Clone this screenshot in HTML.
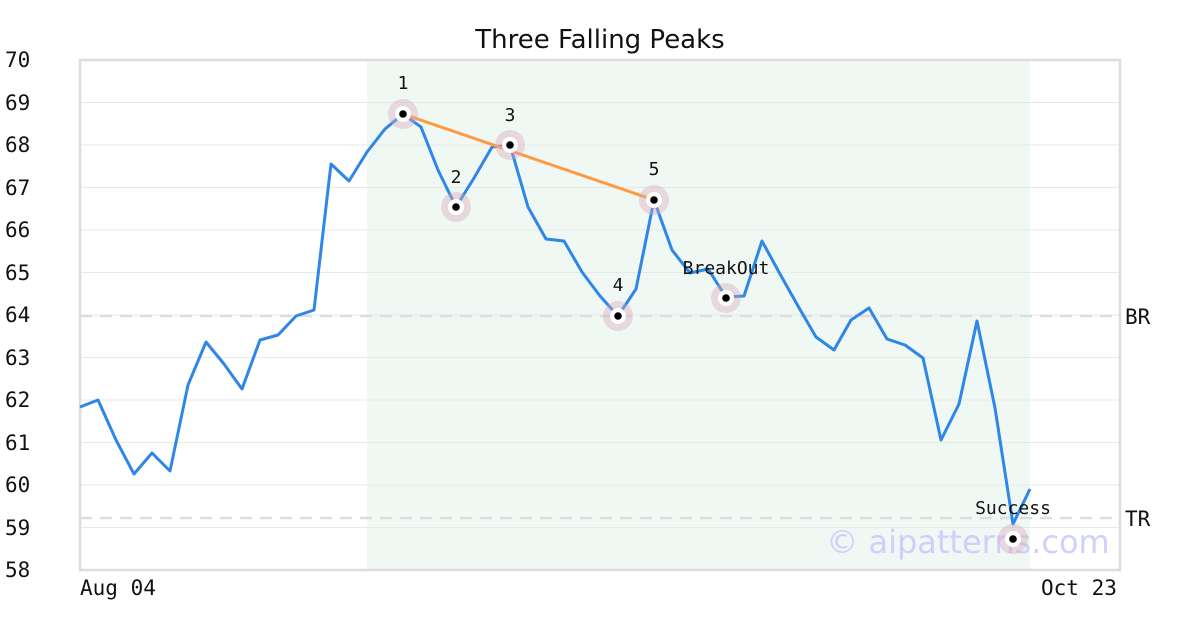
<!DOCTYPE html>
<html><head><meta charset="utf-8"><style>
html,body{margin:0;padding:0;background:#fff;}
svg{display:block;}
.m{font-family:"DejaVu Sans Mono","Liberation Mono",monospace;font-size:21px;fill:#111;}
.s{font-family:"DejaVu Sans Mono","Liberation Mono",monospace;font-size:18px;fill:#111;}
</style></head><body>
<svg width="1200" height="630" xmlns="http://www.w3.org/2000/svg">
<rect x="367" y="60" width="663" height="510" fill="#eef7f3" opacity="0.9"/>
<g stroke="#e8e8e8" stroke-width="1">
<line x1="80" x2="1120" y1="102.5" y2="102.5"/><line x1="80" x2="1120" y1="145" y2="145"/>
<line x1="80" x2="1120" y1="187.5" y2="187.5"/><line x1="80" x2="1120" y1="230" y2="230"/>
<line x1="80" x2="1120" y1="272.5" y2="272.5"/><line x1="80" x2="1120" y1="315" y2="315"/>
<line x1="80" x2="1120" y1="357.5" y2="357.5"/><line x1="80" x2="1120" y1="400" y2="400"/>
<line x1="80" x2="1120" y1="442.5" y2="442.5"/><line x1="80" x2="1120" y1="485" y2="485"/>
<line x1="80" x2="1120" y1="527.5" y2="527.5"/>
</g>
<g stroke="#dddddd" stroke-width="2.5" stroke-dasharray="12,8">
<line x1="80" x2="1120" y1="316" y2="316"/><line x1="80" x2="1120" y1="518" y2="518"/>
</g>
<rect x="80" y="60" width="1040" height="510" fill="none" stroke="#dddddd" stroke-width="2.5"/>
<text x="600" y="48" text-anchor="middle" font-family="DejaVu Sans,Liberation Sans,sans-serif" font-size="26" fill="#111">Three Falling Peaks</text>
<g class="m" text-anchor="start">
<text x="5" y="67">70</text><text x="5" y="110">69</text><text x="5" y="152">68</text>
<text x="5" y="195">67</text><text x="5" y="237">66</text><text x="5" y="280">65</text>
<text x="5" y="322">64</text><text x="5" y="365">63</text><text x="5" y="407">62</text>
<text x="5" y="450">61</text><text x="5" y="492">60</text><text x="5" y="535">59</text>
<text x="5" y="577">58</text>
<text x="80" y="595">Aug 04</text><text x="1041" y="595">Oct 23</text>
<text x="1125" y="324">BR</text><text x="1125" y="526">TR</text>
</g>
<text x="968" y="553" text-anchor="middle" font-family="DejaVu Sans,Liberation Sans,sans-serif" font-size="32" fill="#c8c8ff" opacity="0.85">© aipatterns.com</text>
<polyline fill="none" stroke="#2e86e8" stroke-width="3" stroke-linejoin="round" points="80,407 98,400 116,440 134,474 152,453 170,471 188,385 206,342 224,364 242,389 260,340 278,335 296,316 314,310 331,164 349,181 367,152 385,129 403,114 421,127 438,170 456,207 474,178 492,147 510,145 528,207 546,239 564,241 582,272 600,296 618,316 636,289 654,200 672,250 690,273 708,269 726,297 744,296 762,241 780,274 798,306 816,337 834,350 851,320 869,308 887,339 905,345 923,358 941,440 959,404 977,321 995,408 1013,524 1030,489"/>
<line x1="403" y1="114" x2="654" y2="200" stroke="#ff9a40" stroke-width="3"/>
<g>
<g fill="#d8a8b8" opacity="0.4">
<circle cx="403" cy="114" r="15"/><circle cx="456" cy="207" r="15"/><circle cx="510" cy="145" r="15"/>
<circle cx="618" cy="316" r="15"/><circle cx="654" cy="200" r="15"/><circle cx="726" cy="298" r="15"/><circle cx="1013" cy="539" r="15"/>
</g>
<g fill="#fff">
<circle cx="403" cy="114" r="8"/><circle cx="456" cy="207" r="8"/><circle cx="510" cy="145" r="8"/>
<circle cx="618" cy="316" r="8"/><circle cx="654" cy="200" r="8"/><circle cx="726" cy="298" r="8"/><circle cx="1013" cy="539" r="8"/>
</g>
<g fill="#000">
<circle cx="403" cy="114" r="3.8"/><circle cx="456" cy="207" r="3.8"/><circle cx="510" cy="145" r="3.8"/>
<circle cx="618" cy="316" r="3.8"/><circle cx="654" cy="200" r="3.8"/><circle cx="726" cy="298" r="3.8"/><circle cx="1013" cy="539" r="3.8"/>
</g>
</g>
<g class="s" text-anchor="middle">
<text x="403" y="89">1</text><text x="456" y="183">2</text><text x="510" y="121">3</text>
<text x="618" y="291">4</text><text x="654" y="175">5</text><text x="726" y="274">BreakOut</text>
<text x="1013" y="514">Success</text>
</g>
</svg>
</body></html>
